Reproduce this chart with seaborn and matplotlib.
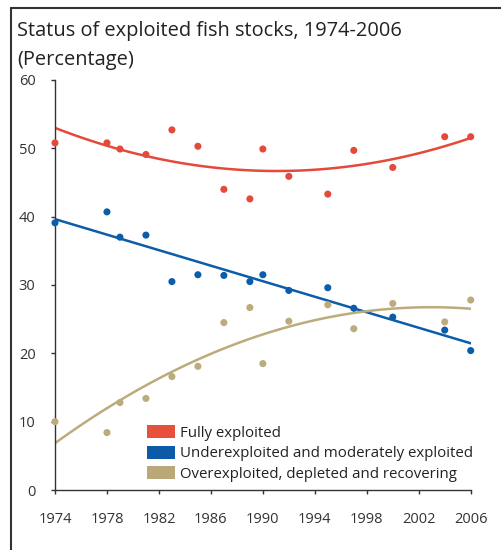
import matplotlib
matplotlib.use("Agg")
import matplotlib.pyplot as plt
from matplotlib.patches import Patch
from matplotlib.lines import Line2D
import seaborn as sns
import pandas as pd

years = [1974, 1978, 1979, 1981, 1983, 1985, 1987, 1989, 1990, 1992, 1995, 1997, 2000, 2004, 2006]
fully = [50.8, 50.8, 49.9, 49.1, 52.7, 50.3, 44.0, 42.6, 49.9, 45.9, 43.3, 49.7, 47.2, 51.7, 51.7]
under = [39.1, 40.7, 37.0, 37.3, 30.5, 31.5, 31.4, 30.5, 31.5, 29.2, 29.6, 26.6, 25.3, 23.4, 20.4]
over = [10.0, 8.4, 12.8, 13.4, 16.6, 18.1, 24.5, 26.7, 18.5, 24.7, 27.1, 23.6, 27.3, 24.6, 27.8]

labels = ["Fully exploited",
          "Underexploited and moderately exploited",
          "Overexploited, depleted and recovering"]
x_ticks = [1974, 1978, 1982, 1986, 1990, 1994, 1998, 2002, 2006]
y_ticks = [0, 10, 20, 30, 40, 50, 60]

sns.set_theme(style="white")
plt.rcParams['font.family'] = ['Open Sans', 'DejaVu Sans']

colors = {"fully": "#E5493A", "under": "#0B5DAA", "over": "#BCAC7C"}
patch_colors = ["#E8503E", "#0C5AA8", "#BAA878"]

df = pd.DataFrame({
    "year": years * 3,
    "value": fully + under + over,
    "series": ["fully"] * len(years) + ["under"] * len(years) + ["over"] * len(years),
})

fig = plt.figure(figsize=(5.02, 5.5), dpi=100)
ax = fig.add_axes([55 / 502, 1 - 490 / 550, (470.7 - 55) / 502, 410 / 550])

sns.scatterplot(data=df, x="year", y="value", hue="series", palette=colors,
                s=26, linewidth=0, legend=False, ax=ax, zorder=3, clip_on=False)

orders = {"fully": 2, "under": 1, "over": 2}
for key in ["fully", "under", "over"]:
    sub = df[df["series"] == key]
    sns.regplot(data=sub, x="year", y="value", order=orders[key], ci=None,
                scatter=False, color=colors[key], line_kws={"linewidth": 1.8},
                ax=ax, truncate=True)

ax.set_xlim(1974, 2006)
ax.set_ylim(0, 60)
ax.set_xticks(x_ticks)
ax.set_yticks(y_ticks)
ax.set_xlabel("")
ax.set_ylabel("")
for s in ["top", "right"]:
    ax.spines[s].set_visible(False)
for s in ["left", "bottom"]:
    ax.spines[s].set_color("#333333")
    ax.spines[s].set_linewidth(1.0)
ax.tick_params(axis="both", which="both", direction="out", length=3, width=1,
               bottom=True, left=True,
               color="#333333", labelcolor="#333333", labelsize=10.5)
ax.tick_params(axis="y", pad=11)
ax.tick_params(axis="x", pad=13)
ax.patch.set_alpha(0)

handles = [Patch(facecolor=c, edgecolor="none") for c in patch_colors]
ax.legend(handles, labels, loc="upper left", bbox_to_anchor=(0.222, 0.158),
          frameon=False, fontsize=10.8, handlelength=1.85, handleheight=0.95,
          handletextpad=0.35, labelspacing=0.33, borderpad=0, borderaxespad=0,
          labelcolor="#222222")

fig.text(17 / 502, 1 - 21 / 550, "Status of exploited fish stocks, 1974-2006\n(Percentage)",
         ha="left", va="top", fontsize=14.4, color="#222222", linespacing=1.6)

# outer frame (top and left borders)
fig.add_artist(Line2D([11 / 502, 1], [1 - 8 / 550, 1 - 8 / 550], transform=fig.transFigure,
                      color="#333333", linewidth=1.5))
fig.add_artist(Line2D([11 / 502, 11 / 502], [0, 1 - 8 / 550], transform=fig.transFigure,
                      color="#333333", linewidth=1.5))

fig.savefig("out.png", dpi=100)
